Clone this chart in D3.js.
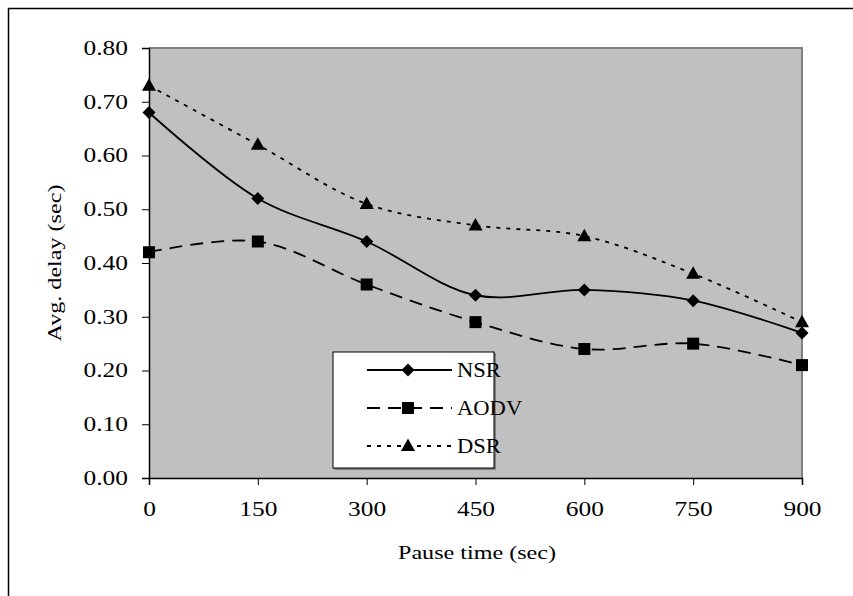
<!DOCTYPE html>
<html>
<head>
<meta charset="utf-8">
<script src="https://cdn.jsdelivr.net/npm/d3@7/dist/d3.min.js"></script>
<style>
  body { margin: 0; background: #fff; }
  svg text { font-family: "Liberation Serif", "Times New Roman", serif; fill: #000; }
</style>
</head>
<body>
<div id="chart"></div>
<script>
// Data
const pauseTimes = [0, 150, 300, 450, 600, 750, 900];
const nsr  = [0.68, 0.52, 0.44, 0.34, 0.35, 0.33, 0.27];
const aodv = [0.42, 0.44, 0.36, 0.29, 0.24, 0.25, 0.21];
const dsr  = [0.73, 0.62, 0.51, 0.47, 0.45, 0.38, 0.29];
const yTicks = [0, 0.1, 0.2, 0.3, 0.4, 0.5, 0.6, 0.7, 0.8];

const series = [
  { name: 'NSR',  values: nsr,  dash: null,   symbol: 'diamond' },
  { name: 'AODV', values: aodv, dash: '13,8', symbol: 'square' },
  { name: 'DSR',  values: dsr,  dash: '4,6',  symbol: 'triangle' },
];

const W = 853, H = 596;
const plot = { left: 149, right: 802, top: 48, bottom: 478 };
const STRETCH = 1.27;   // the original text is set wide

const svg = d3.select('#chart').append('svg')
  .attr('width', W).attr('height', H);

// outer frame (only top and left edges fall inside the image)
svg.append('path')
  .attr('d', `M8.5,${H} L8.5,8.5 L${W},8.5`)
  .attr('fill', 'none').attr('stroke', '#000').attr('stroke-width', 1.5);

const x = d3.scaleLinear().domain([0, 900]).range([plot.left, plot.right]);
const y = d3.scaleLinear().domain([0, 0.8]).range([plot.bottom, plot.top]);

// plot area
svg.append('rect')
  .attr('x', plot.left).attr('y', plot.top)
  .attr('width', plot.right - plot.left).attr('height', plot.bottom - plot.top)
  .attr('fill', '#c0c0c0');
svg.append('path')
  .attr('d', `M${plot.left},${plot.top} L${plot.right},${plot.top} L${plot.right},${plot.bottom}`)
  .attr('fill', 'none').attr('stroke', '#808080').attr('stroke-width', 2);

// axes
const yAxis = svg.append('g')
  .attr('transform', `translate(${plot.left},0)`)
  .call(d3.axisLeft(y).tickValues(yTicks).tickFormat(d3.format('.2f')).tickSize(7).tickPadding(14));
const xAxis = svg.append('g')
  .attr('transform', `translate(0,${plot.bottom})`)
  .call(d3.axisBottom(x).tickValues(pauseTimes).tickSize(7).tickPadding(17));

[yAxis, xAxis].forEach(a => {
  a.select('.domain').attr('stroke', '#000').attr('stroke-width', 1.5);
  a.selectAll('.tick line').attr('stroke', '#000').attr('stroke-width', 1);
  a.selectAll('.tick text')
    .style('font-size', '20px')
    .style('font-family', '"Liberation Serif", serif')
    .attr('x', function () { return (+d3.select(this).attr('x') || 0) / STRETCH; })
    .attr('transform', `scale(${STRETCH},1)`);
});

// axis titles
svg.append('text')
  .attr('transform', `translate(61,263) rotate(-90) scale(${STRETCH},1)`)
  .attr('text-anchor', 'middle')
  .style('font-size', '19px')
  .text('Avg. delay (sec)');
svg.append('text')
  .attr('transform', `translate(477,559) scale(${STRETCH},1)`)
  .attr('text-anchor', 'middle')
  .style('font-size', '19px')
  .text('Pause time (sec)');

// lines
const line = d3.line()
  .x((d, i) => x(pauseTimes[i]))
  .y(d => y(d))
  .curve(d3.curveCatmullRom.alpha(0.5));

const symbolPath = {
  diamond: 'M0,-6.5L6.5,0L0,6.5L-6.5,0Z',
  square: 'M-6,-6H6V6H-6Z',
  triangle: 'M0,-7.5L7,5L-7,5Z',
};

series.forEach(s => {
  svg.append('path')
    .datum(s.values)
    .attr('d', line)
    .attr('fill', 'none')
    .attr('stroke', '#000')
    .attr('stroke-width', 1.8)
    .attr('stroke-dasharray', s.dash);

  svg.selectAll(null)
    .data(s.values)
    .join('path')
    .attr('transform', (d, i) => `translate(${x(pauseTimes[i])},${y(d)})`)
    .attr('d', symbolPath[s.symbol])
    .attr('fill', '#000');
});

// legend
const legend = svg.append('g').attr('transform', 'translate(333,352)');
legend.append('rect')
  .attr('x', 1).attr('y', 1).attr('width', 162).attr('height', 117)
  .attr('fill', '#808080');
legend.append('rect')
  .attr('width', 161).attr('height', 116)
  .attr('fill', '#fff').attr('stroke', '#000').attr('stroke-width', 1);

series.forEach((s, i) => {
  const cy = 18 + i * 38;
  legend.append('line')
    .attr('x1', 34).attr('x2', 119).attr('y1', cy).attr('y2', cy)
    .attr('stroke', '#000').attr('stroke-width', 1.8)
    .attr('stroke-dasharray', s.dash);
  legend.append('path')
    .attr('transform', `translate(75,${cy})`)
    .attr('d', symbolPath[s.symbol])
    .attr('fill', '#000');
  legend.append('text')
    .attr('transform', `translate(124,${cy + 7}) scale(1.13,1)`)
    .style('font-size', '20px')
    .text(s.name);
});
</script>
</body>
</html>
